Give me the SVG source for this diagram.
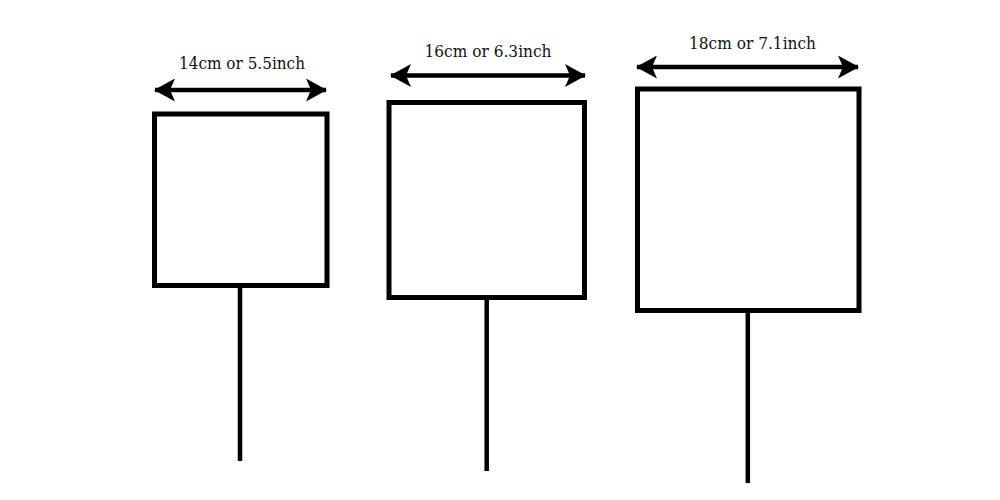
<svg xmlns="http://www.w3.org/2000/svg" width="1000" height="500" viewBox="0 0 1000 500">
<defs>
<style>
.box{fill:#fff;stroke:#000;stroke-width:5}
.stick{stroke:#000;stroke-width:4.5}
.dim{stroke:#000;stroke-width:4.5}
.lbl{font-family:"DejaVu Serif","Liberation Serif",serif;font-size:17px;fill:#111;text-anchor:middle}
</style>
<marker id="ah" viewBox="0 0 21 23" refX="20" refY="11.5" markerWidth="21" markerHeight="23" markerUnits="userSpaceOnUse" orient="auto-start-reverse">
<path d="M21,11.5 L0,0 L5,11.5 L0,23 Z" fill="#000"/>
</marker>
</defs>
<rect width="1000" height="500" fill="#fff"/>
<g id="connectors">
<line class="dim" x1="155" y1="90" x2="326" y2="90" marker-start="url(#ah)" marker-end="url(#ah)"/>
<line class="dim" x1="391" y1="75.5" x2="585" y2="75.5" marker-start="url(#ah)" marker-end="url(#ah)"/>
<line class="dim" x1="637" y1="67" x2="858" y2="67" marker-start="url(#ah)" marker-end="url(#ah)"/>
</g>
<g id="sign-14cm">
<line class="stick" x1="240" y1="285" x2="240" y2="461"/>
<rect class="box" x="154.5" y="114" width="172.5" height="171.5"/>
<text class="lbl" x="242" y="69" textLength="126" lengthAdjust="spacingAndGlyphs">14cm or 5.5inch</text>
</g>
<g id="sign-16cm">
<line class="stick" x1="486.7" y1="297" x2="486.7" y2="471"/>
<rect class="box" x="389" y="102.5" width="195.5" height="195"/>
<text class="lbl" x="488" y="56.5" textLength="127" lengthAdjust="spacingAndGlyphs">16cm or 6.3inch</text>
</g>
<g id="sign-18cm">
<line class="stick" x1="747.8" y1="310" x2="747.8" y2="483"/>
<rect class="box" x="637.5" y="89" width="221.5" height="221.5"/>
<text class="lbl" x="752.5" y="49" textLength="127" lengthAdjust="spacingAndGlyphs">18cm or 7.1inch</text>
</g>
</svg>
